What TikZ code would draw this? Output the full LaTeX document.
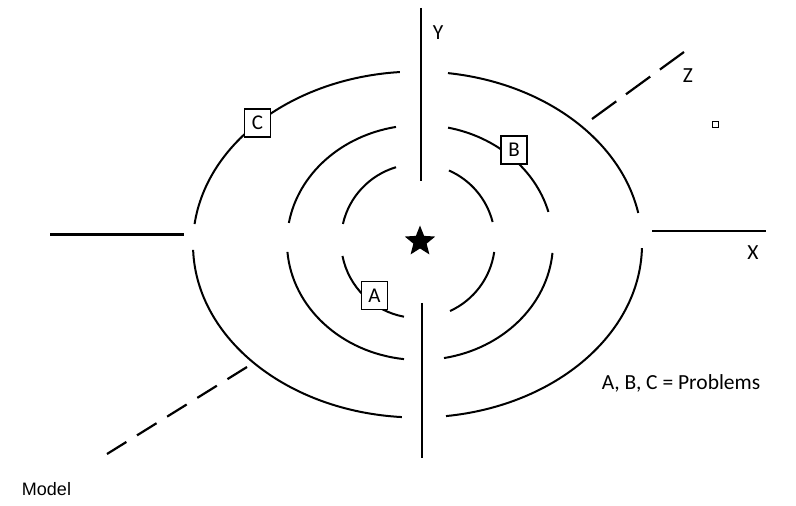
\documentclass[tikz,border=0pt]{standalone}
\usepackage{fontspec}
\setmainfont{Carlito}
\newfontfamily\modelfont{Liberation Sans}
\usetikzlibrary{shapes.geometric}

\tikzset{
  ring/.style={line width=2pt},
  axis/.style={line width=2.4pt},
  depth/.style={line width=2.2pt,dash pattern=on 23pt off 12.5pt},
  probbox/.style={draw,fill=white,line width=1.8pt,minimum width=26pt,minimum height=28pt,
    inner sep=0pt,font=\fontsize{21}{21}\selectfont},
  axlabel/.style={font=\fontsize{21.5}{21.5}\selectfont,inner sep=0pt}
}

\begin{document}
\begin{tikzpicture}[x=1pt,y=1pt]
\useasboundingbox (0,0) rectangle (796,506);
% ring centres
\coordinate (outer) at (417.5,261.5);
\coordinate (middle) at (420,263.5);
\coordinate (inner) at (418,265);
% outer ring
\draw[ring] ([shift={(10.5:224.5 and 173)}]outer) arc[start angle=10.5,end angle=82.2,x radius=224.5,y radius=173];
\draw[ring] ([shift={(94.5:224.5 and 173)}]outer) arc[start angle=94.5,end angle=173.2,x radius=224.5,y radius=173];
\draw[ring] ([shift={(181.8:224.5 and 173)}]outer) arc[start angle=181.8,end angle=266,x radius=224.5,y radius=173];
\draw[ring] ([shift={(277.3:224.5 and 173)}]outer) arc[start angle=277.3,end angle=358.8,x radius=224.5,y radius=173];
% middle ring
\draw[ring] ([shift={(15.1:133 and 117.5)}]middle) arc[start angle=15.1,end angle=77.8,x radius=133,y radius=117.5];
\draw[ring] ([shift={(100.4:133 and 117.5)}]middle) arc[start angle=100.4,end angle=170.4,x radius=133,y radius=117.5];
\draw[ring] ([shift={(184.6:133 and 117.5)}]middle) arc[start angle=184.6,end angle=263.1,x radius=133,y radius=117.5];
\draw[ring] ([shift={(280.4:133 and 117.5)}]middle) arc[start angle=280.4,end angle=354.9,x radius=133,y radius=117.5];
% inner ring
\draw[ring] ([shift={(14.3:77 and 77)}]inner) arc[start angle=14.3,end angle=66.3,radius=77];
\draw[ring] ([shift={(106.6:77 and 77)}]inner) arc[start angle=106.6,end angle=167.2,radius=77];
\draw[ring] ([shift={(191.2:77 and 77)}]inner) arc[start angle=191.2,end angle=259.5,radius=77];
\draw[ring] ([shift={(294.6:77 and 77)}]inner) arc[start angle=294.6,end angle=351.8,radius=77];

% axes
\coordinate (yend) at (421,498);
\coordinate (yin) at (421,325);
\coordinate (yout) at (422,203);
\coordinate (ybot) at (422,48);
\coordinate (xleft) at (50,271.5);
\coordinate (xleftin) at (184,271.5);
\coordinate (xrightin) at (652,275);
\coordinate (xright) at (766,275);
\coordinate (zin) at (592,387);
\coordinate (zend) at (684,454);
\coordinate (zout) at (247,139);
\coordinate (zbot) at (107,52);
\draw[axis] (yend) -- (yin);
\draw[axis] (yout) -- (ybot);
\draw[axis] (xleft) -- (xleftin);
\draw[axis] (xrightin) -- (xright);
\draw[depth,dash pattern=on 30pt off 12pt] (zin) -- (zend);
\draw[depth] (zout) -- (zbot);

% centre
\node[star,star points=5,star point ratio=2.3,fill=black,inner sep=0pt,minimum size=32pt] (goal) at (420,264.5) {};

% problems
\node[probbox] (pa) at (374.5,210.5) {A};
\node[probbox] (pb) at (514,356) {B};
\node[probbox] (pc) at (257.5,383) {C};

% labels
\node[axlabel] (ylab) at (438,473) {Y};
\node[axlabel] (xlab) at (753,253) {X};
\node[axlabel] (zlab) at (688,430) {Z};
\node[draw,line width=0.8pt,minimum size=6pt,inner sep=0pt] (spot) at (715,382) {};
\node[axlabel] (legend) at (681,123) {A, B, C = Problems};
\node[font=\modelfont\fontsize{18}{18}\selectfont,inner sep=0pt] (model) at (46.5,17) {Model};
\end{tikzpicture}
\end{document}
